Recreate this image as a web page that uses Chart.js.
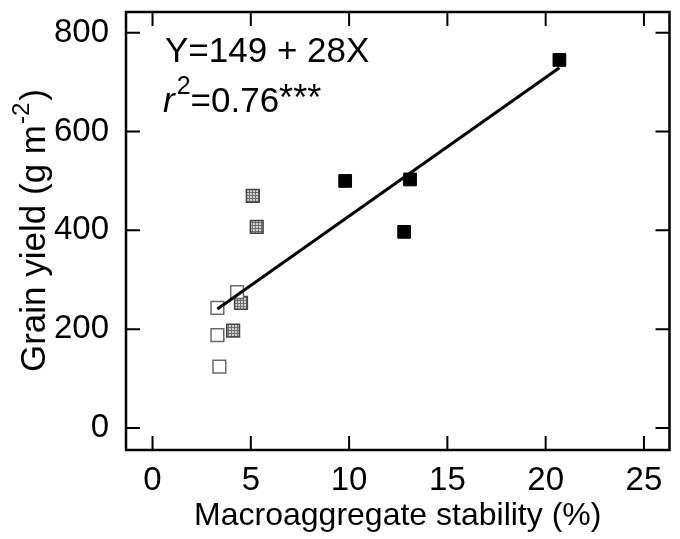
<!DOCTYPE html>
<html>
<head>
<meta charset="utf-8">
<script src="https://cdn.jsdelivr.net/npm/chart.js@4"></script>
<style>
  html, body { margin: 0; padding: 0; background: #fff; }
  #wrap { width: 680px; height: 539px; }
</style>
</head>
<body>
<div id="wrap"><canvas id="scatterChart" width="680" height="539"></canvas></div>
<script>
// data
const openX = [3.3, 3.3, 3.4, 4.3];
const openY = [243, 188, 124, 275];
const hatchX = [5.1, 5.3, 4.5, 4.1];
const hatchY = [470, 407, 253, 197];
const solidX = [20.7, 9.8, 13.1, 12.8];
const solidY = [745, 500, 503, 397];
// fitted line Y = 149 + 28X, drawn over the range of the data
const fitX = [3.3, 20.7];
const fitY = [241, 729];
const xTicks = [0, 5, 10, 15, 20, 25];
const yTicks = [0, 200, 400, 600, 800];

const FONT = '"Liberation Sans", Arial, Helvetica, sans-serif';

function pts(xs, ys) {
    return xs.map((x, i) => ({ x: x, y: ys[i] }));
}

// small dotted fill for the grey squares
const tile = document.createElement('canvas');
tile.width = 3; tile.height = 3;
const tctx = tile.getContext('2d');
tctx.fillStyle = '#d0d0d0';
tctx.fillRect(0, 0, 3, 3);
tctx.fillStyle = '#707070';
tctx.fillRect(0, 0, 3, 1);
tctx.fillRect(0, 0, 1, 3);
const hatch = tctx.createPattern(tile, 'repeat');

const framePlugin = {
    id: 'frame',
    afterDraw(chart) {
        const ctx = chart.ctx;
        const a = chart.chartArea;
        const xs = chart.scales.x, ys = chart.scales.y;
        const tl = 14;
        ctx.save();
        ctx.strokeStyle = '#000';
        ctx.lineWidth = 2.5;
        ctx.strokeRect(a.left, a.top, a.right - a.left, a.bottom - a.top);
        ctx.lineWidth = 2;
        ctx.beginPath();
        xTicks.forEach(v => {
            const px = xs.getPixelForValue(v);
            ctx.moveTo(px, a.bottom); ctx.lineTo(px, a.bottom - tl);
            ctx.moveTo(px, a.top); ctx.lineTo(px, a.top + tl);
        });
        yTicks.forEach(v => {
            const py = ys.getPixelForValue(v);
            ctx.moveTo(a.left, py); ctx.lineTo(a.left + tl, py);
            ctx.moveTo(a.right, py); ctx.lineTo(a.right - tl, py);
        });
        ctx.stroke();

        // equation
        ctx.fillStyle = '#000';
        ctx.textBaseline = 'alphabetic';
        ctx.textAlign = 'left';
        ctx.font = '35px ' + FONT;
        ctx.fillText('Y=149 + 28X', 165, 62);
        ctx.font = 'italic 35px ' + FONT;
        ctx.fillText('r', 163, 112);
        let x = 163 + ctx.measureText('r').width + 2;
        ctx.font = '25px ' + FONT;
        ctx.fillText('2', x, 94);
        x += ctx.measureText('2').width;
        ctx.font = '35px ' + FONT;
        ctx.fillText('=0.76', x, 112);
        x += ctx.measureText('=0.76').width;
        ctx.font = '36px ' + FONT;
        ctx.fillText('***', x, 110);

        // y axis title with superscript
        ctx.translate(45, (a.top + a.bottom) / 2);
        ctx.rotate(-Math.PI / 2);
        const main = 'Grain yield (g m', sup = '-2', end = ')';
        ctx.font = '35px ' + FONT;
        const w1 = ctx.measureText(main).width, w3 = ctx.measureText(end).width;
        ctx.font = '24px ' + FONT;
        const w2 = ctx.measureText(sup).width + 2;
        let sx = -(w1 + w2 + w3) / 2;
        ctx.font = '35px ' + FONT;
        ctx.fillText(main, sx, 0);
        sx += w1 + 1;
        ctx.font = '24px ' + FONT;
        ctx.fillText(sup, sx, -16);
        sx += w2;
        ctx.font = '35px ' + FONT;
        ctx.fillText(end, sx, 0);
        ctx.restore();
    }
};

const ctx1 = document.getElementById('scatterChart').getContext('2d');
new Chart(ctx1, {
    type: 'scatter',
    data: {
        datasets: [{
            type: 'line',
            label: 'fit',
            data: pts(fitX, fitY),
            borderColor: '#000',
            borderWidth: 3,
            pointRadius: 0,
            fill: false,
            order: 0
        }, {
            label: 'open',
            data: pts(openX, openY),
            pointStyle: 'rect',
            pointRadius: 9,
            backgroundColor: '#fff',
            borderColor: '#6a6a6a',
            borderWidth: 1.5,
            order: 1
        }, {
            label: 'hatched',
            data: pts(hatchX, hatchY),
            pointStyle: 'rect',
            pointRadius: 9,
            backgroundColor: hatch,
            borderColor: '#444',
            borderWidth: 1.5,
            order: 1
        }, {
            label: 'solid',
            data: pts(solidX, solidY),
            pointStyle: 'rect',
            pointRadius: 9,
            backgroundColor: '#000',
            borderColor: '#000',
            borderWidth: 1,
            order: 1
        }]
    },
    options: {
        responsive: false,
        animation: false,
        layout: { padding: { top: 12, right: 2, left: 0, bottom: 0 } },
        plugins: { legend: { display: false }, tooltip: { enabled: false } },
        scales: {
            x: {
                type: 'linear',
                min: -1.35,
                max: 26.3,
                afterBuildTicks: s => { s.ticks = xTicks.map(v => ({ value: v })); },
                afterFit: s => { s.height = 89; s.paddingLeft = 0; s.paddingRight = 0; },
                grid: { display: false },
                border: { display: false },
                ticks: { color: '#000', padding: 3, font: { family: FONT, size: 33 } },
                title: {
                    display: true,
                    text: 'Macroaggregate stability (%)',
                    color: '#000',
                    font: { family: FONT, size: 32 },
                    padding: { top: 0, bottom: 4 }
                }
            },
            y: {
                type: 'linear',
                min: -44.6,
                max: 842,
                afterBuildTicks: s => { s.ticks = yTicks.map(v => ({ value: v })); },
                afterFit: s => { s.width = 126; s.paddingTop = 0; s.paddingBottom = 0; },
                grid: { display: false },
                border: { display: false },
                ticks: { color: '#000', padding: 9, font: { family: FONT, size: 33 } }
            }
        }
    },
    plugins: [framePlugin]
});
</script>
</body>
</html>
